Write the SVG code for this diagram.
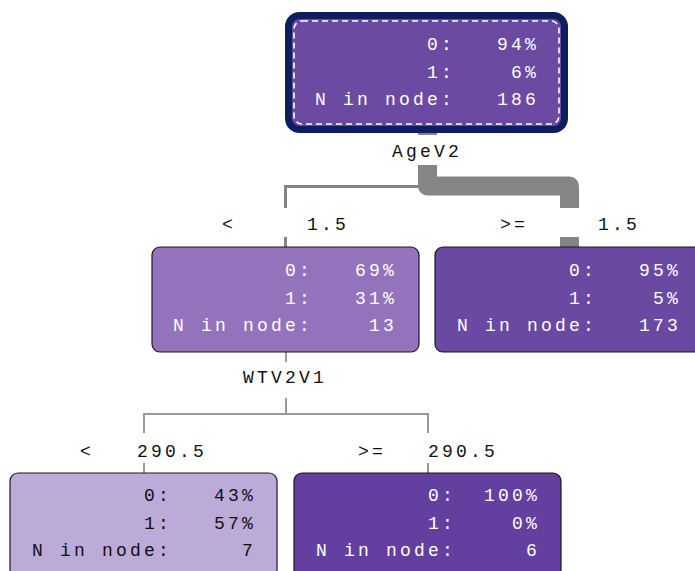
<svg xmlns="http://www.w3.org/2000/svg" width="695" height="571" viewBox="0 0 695 571">
  <style>
    .t { font-family: "Liberation Mono", "DejaVu Sans Mono", monospace; font-size: 18px; letter-spacing: 3.2px; }
    .w { fill: #ffffff; }
    .k { fill: #111111; }
    .box { stroke: #1a1a1a; stroke-width: 1.2; }
    .edge { fill: none; stroke: #858585; stroke-linejoin: miter; }
    .thick { stroke-width: 19px; }
    .bend { stroke-linejoin: round; }
    .mid { stroke-width: 3px; }
    .thin { stroke-width: 2px; stroke: #999999; }
  </style>

  <!-- connectors -->
  <g id="connectors">
    <!-- split on AgeV2 -->
    <path class="edge thick" d="M427.5 130 V135"/>
    <path class="edge mid" d="M285.5 208 V186.5 H427"/>
    <path class="edge thick bend" d="M427.5 165 V186 H569.5 V208"/>
    <path class="edge mid" d="M285.5 237 V247"/>
    <path class="edge thick" d="M569.5 237 V247"/>
    <!-- split on WTV2V1 -->
    <path class="edge thin" d="M286 352 V362"/>
    <path class="edge thin" d="M286 398 V414"/>
    <path class="edge thin" d="M144 433 V414 H428 V433"/>
    <path class="edge thin" d="M144 463 V473"/>
    <path class="edge thin" d="M428 463 V473"/>
  </g>

  <!-- split labels -->
  <g id="labels" class="t k">
    <text x="392" y="157">AgeV2</text>
    <text x="222" y="230">&lt;</text>
    <text x="307" y="230">1.5</text>
    <text x="500" y="230">&gt;=</text>
    <text x="598" y="230">1.5</text>
    <text x="243" y="383">WTV2V1</text>
    <text x="80" y="457">&lt;</text>
    <text x="137" y="457">290.5</text>
    <text x="358" y="457">&gt;=</text>
    <text x="428" y="457">290.5</text>
  </g>

  <!-- root -->
  <g id="node-root">
    <rect x="288.5" y="15.5" width="276" height="114" rx="11" fill="#6b4aa2" stroke="#0e1f5e" stroke-width="7"/>
    <rect x="294" y="21" width="265" height="103" rx="8" fill="none" stroke="#ffffff" stroke-width="1.6" stroke-dasharray="6 4"/>
    <g class="t w">
      <text x="427" y="50">0:</text><text x="497" y="50">94%</text>
      <text x="427" y="77.5">1:</text><text x="511" y="77.5">6%</text>
      <text x="315" y="105">N in node:</text><text x="497" y="105">186</text>
    </g>
  </g>

  <!-- AgeV2 < 1.5 -->
  <g id="node-age-lt">
    <rect class="box" x="152" y="247" width="267" height="105" rx="8" fill="#9373bb"/>
    <g class="t w">
      <text x="285" y="276">0:</text><text x="355" y="276">69%</text>
      <text x="285" y="303.5">1:</text><text x="355" y="303.5">31%</text>
      <text x="173" y="331">N in node:</text><text x="369" y="331">13</text>
    </g>
  </g>

  <!-- AgeV2 >= 1.5 -->
  <g id="node-age-ge">
    <rect class="box" x="435" y="247" width="267" height="105" rx="8" fill="#6a49a2"/>
    <g class="t w">
      <text x="569" y="276">0:</text><text x="639" y="276">95%</text>
      <text x="569" y="303.5">1:</text><text x="653" y="303.5">5%</text>
      <text x="457" y="331">N in node:</text><text x="639" y="331">173</text>
    </g>
  </g>

  <!-- WTV2V1 < 290.5 -->
  <g id="node-wt-lt">
    <rect class="box" x="10" y="473" width="267" height="105" rx="8" fill="#bcaad9"/>
    <g class="t k">
      <text x="144" y="501">0:</text><text x="214" y="501">43%</text>
      <text x="144" y="528.5">1:</text><text x="214" y="528.5">57%</text>
      <text x="32" y="556">N in node:</text><text x="242" y="556">7</text>
    </g>
  </g>

  <!-- WTV2V1 >= 290.5 -->
  <g id="node-wt-ge">
    <rect class="box" x="294" y="473" width="267" height="105" rx="8" fill="#633f9f"/>
    <g class="t w">
      <text x="428" y="501">0:</text><text x="484" y="501">100%</text>
      <text x="428" y="528.5">1:</text><text x="512" y="528.5">0%</text>
      <text x="316" y="556">N in node:</text><text x="526" y="556">6</text>
    </g>
  </g>
</svg>
